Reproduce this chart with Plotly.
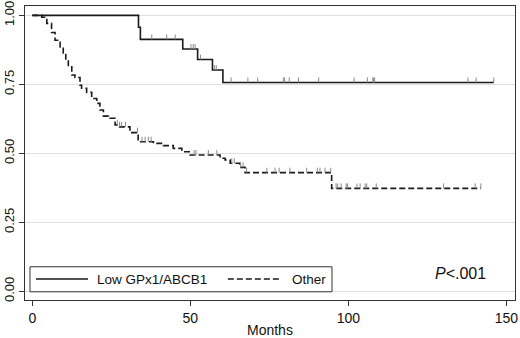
import plotly.graph_objects as go
import numpy as np

# ---- data ----
# Low GPx1/ABCB1 group: event times (months) and survival after each step
low_times = [0, 33.6, 34.2, 47.6, 52.3, 57.0, 60.3]
low_surv = [1.0, 0.957, 0.913, 0.878, 0.840, 0.802, 0.757]
low_end = 146.0
low_censor = [37.8, 42.5, 45.2, 50.2, 50.9, 51.5, 53.2, 57.6, 58.2, 62.9, 68.2, 71.3,
              79.4, 79.8, 81.3, 84.2, 90.6, 101.8, 106.0, 107.7, 108.0, 108.3,
              137.8, 140.4, 146.0]

# Other group
oth_times = [0, 3.0, 4.6, 6.1, 7.2, 8.8, 9.8, 10.6, 11.4, 12.5, 13.5, 15.1, 15.6,
             17.2, 18.8, 20.4, 21.4, 22.5, 24.1, 26.2, 27.2, 30.9, 33.5, 38.3,
             41.5, 44.6, 47.3, 49.9, 59.4, 61.0, 62.6, 65.7, 67.3, 94.7]
oth_surv = [1.0, 0.993, 0.971, 0.938, 0.910, 0.886, 0.863, 0.838, 0.814, 0.784,
            0.775, 0.747, 0.736, 0.721, 0.699, 0.681, 0.657, 0.635, 0.627, 0.603,
            0.596, 0.575, 0.542, 0.536, 0.528, 0.518, 0.506, 0.494, 0.482, 0.476,
            0.464, 0.449, 0.430, 0.373]
oth_end = 141.9
oth_censor = [26.9, 27.6, 28.2, 29.5, 33.3, 34.7, 35.7, 36.7, 37.6, 51.2, 51.8,
              55.7, 58.4, 63.1, 63.9, 65.9, 66.7, 67.8, 74.2, 76.8, 78.1, 81.5,
              86.8, 90.2, 91.0, 92.6, 94.4, 96.1, 96.6, 97.7, 99.3, 99.7, 102.7,
              103.7, 105.3, 105.8, 108.8, 130.1, 140.1, 141.9]

group_names = ["Low GPx1/ABCB1", "Other"]
x_title = "Months"
x_ticks = [0, 50, 100, 150]
y_ticks = [0, 0.25, 0.5, 0.75, 1.0]
y_ticklabels = ["0.00", "0.25", "0.50", "0.75", "1.00"]
p_text = "<i>P</i><.001"


def surv_at(times, surv, t):
    idx = np.searchsorted(np.array(times), t, side="right") - 1
    return surv[max(idx, 0)]


LINE = "#1a1a1a"
CENS = "#8a8a8a"
FONT = "Liberation Sans, Arial, sans-serif"

fig = go.Figure()

for times, surv, end, cens, dash in [
    (low_times, low_surv, low_end, low_censor, "solid"),
    (oth_times, oth_surv, oth_end, oth_censor, "6px,3px"),
]:
    xs = list(times) + [end]
    ys = list(surv) + [surv[-1]]
    fig.add_trace(go.Scatter(x=xs, y=ys, mode="lines", line_shape="hv",
                             line=dict(color=LINE, width=1.6, dash=dash),
                             showlegend=False, hoverinfo="skip"))
    cy = [surv_at(times, surv, c) for c in cens]
    fig.add_trace(go.Scatter(x=cens, y=cy, mode="markers",
                             marker=dict(size=1, color="rgba(0,0,0,0)"),
                             error_y=dict(type="constant", symmetric=False,
                                          value=0.018, valueminus=0,
                                          width=0, thickness=1, color=CENS),
                             showlegend=False, hoverinfo="skip"))

# manual legend box (Stata style)
fig.add_shape(type="rect", xref="paper", yref="paper",
              x0=0.0102, x1=0.6265, y0=0.028, y1=0.113,
              line=dict(color="#333", width=1), fillcolor="white", layer="above")
fig.add_shape(type="line", xref="paper", yref="paper",
              x0=0.0224, x1=0.1286, y0=0.0714, y1=0.0714,
              line=dict(color=LINE, width=1.4), layer="above")
fig.add_shape(type="line", xref="paper", yref="paper",
              x0=0.414, x1=0.522, y0=0.0714, y1=0.0714,
              line=dict(color=LINE, width=1.4, dash="6px,3px"), layer="above")
fig.add_annotation(xref="paper", yref="paper", x=0.143, y=0.0714,
                   xanchor="left", yanchor="middle", showarrow=False,
                   text=group_names[0], font=dict(family=FONT, size=13.5, color="#111"))
fig.add_annotation(xref="paper", yref="paper", x=0.541, y=0.0714,
                   xanchor="left", yanchor="middle", showarrow=False,
                   text=group_names[1], font=dict(family=FONT, size=13.5, color="#111"))
fig.add_annotation(xref="paper", yref="paper", x=0.944, y=0.09,
                   xanchor="right", yanchor="middle", showarrow=False,
                   text=p_text, font=dict(family=FONT, size=16, color="#111"))
fig.add_annotation(xref="paper", yref="paper", x=0.5, y=-0.102,
                   xanchor="center", yanchor="middle", showarrow=False,
                   text=x_title, font=dict(family=FONT, size=14, color="#111"))

fig.update_layout(
    width=520, height=338,
    margin=dict(l=25, r=5, t=6, b=38),
    paper_bgcolor="white", plot_bgcolor="white",
    font=dict(family=FONT, size=13, color="#111"),
    xaxis=dict(range=[-2.3, 152.7], tickvals=x_ticks, ticks="outside", ticklen=5,
               tickcolor="#333", showgrid=False, zeroline=False, automargin=False,
               showline=True, linecolor="#333", linewidth=1, mirror=True,
               tickfont=dict(size=14)),
    yaxis=dict(range=[-0.0315, 1.034], tickvals=y_ticks, ticktext=y_ticklabels,
               ticks="outside", ticklen=5, tickcolor="#333", tickangle=-90,
               automargin=False,
               showgrid=True, gridcolor="#dedede", gridwidth=1, zeroline=False,
               showline=True, linecolor="#333", linewidth=1, mirror=True,
               tickfont=dict(size=13)),
)

fig.write_html("out.html", config={"displayModeBar": False},
               post_script="document.body.style.margin='0';document.body.style.overflow='hidden';")
